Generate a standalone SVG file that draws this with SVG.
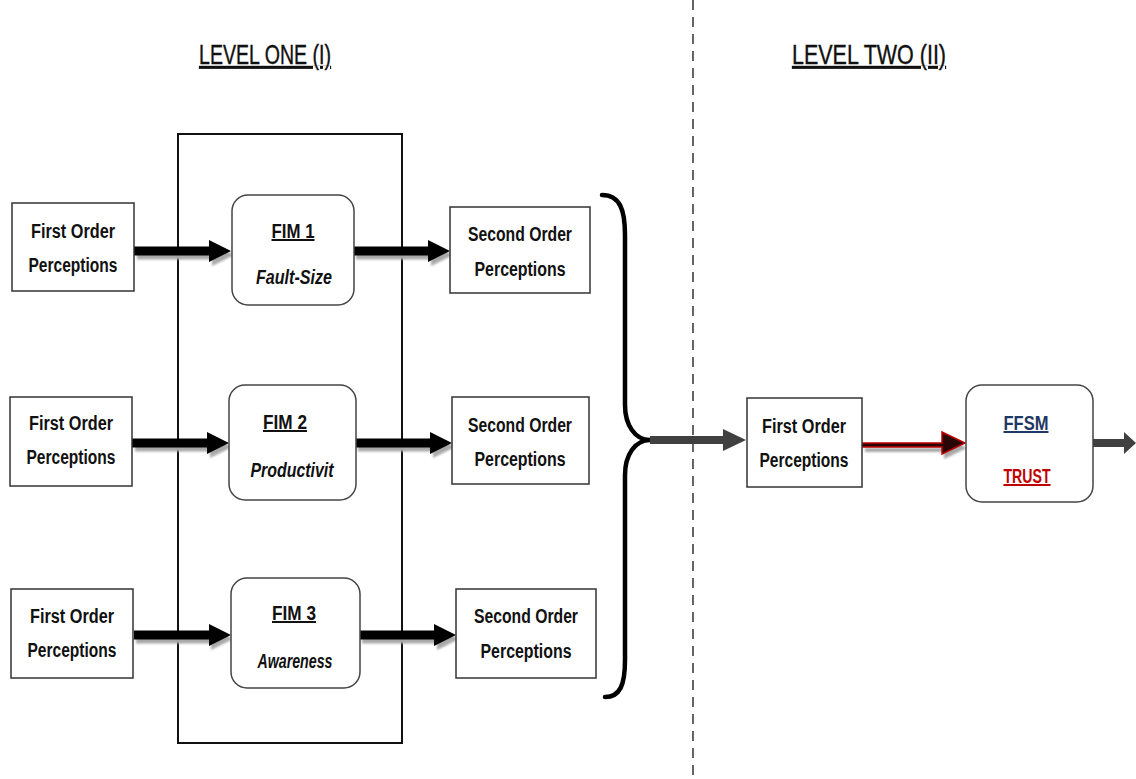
<svg xmlns="http://www.w3.org/2000/svg" xmlns:xlink="http://www.w3.org/1999/xlink" width="1136" height="779" viewBox="0 0 1136 779">
  <style>
    .box { fill: #fff; stroke: #333; stroke-width: 1.5; }
    .rbox { fill: #fff; stroke: #444; stroke-width: 1.5; }
    .frame { fill: none; stroke: #111; stroke-width: 2; }
    .t { font-family: "Liberation Sans", Arial, sans-serif; font-weight: bold; font-size: 20px; text-anchor: middle; fill: #111; }
    .it { font-style: italic; }
    .ul { text-decoration: underline; }
    .head { font-family: "Liberation Sans", Arial, sans-serif; font-size: 28px; text-anchor: middle; fill: #111; text-decoration: underline; stroke: #111; stroke-width: 0.4; }
    .blk { fill: #000; }
    .shd { fill: #a8a8a8; filter: url(#soft); }
    .dk { fill: #404040; }
  </style>
  <defs>
    <filter id="soft" x="-10%" y="-50%" width="120%" height="200%">
      <feGaussianBlur stdDeviation="1"/>
    </filter>
    <!-- thick block arrow, 97 px long, tip at x=97 -->
    <path id="arr" d="M0,-4.5 H75 V-11 L97,0 L75,11 V4.5 H0 Z"/>
  </defs>

  <rect width="1136" height="779" fill="#fff"/>

  <!-- headings and level divider -->
  <text class="head" x="265" y="64" textLength="132" lengthAdjust="spacingAndGlyphs">LEVEL ONE (I)</text>
  <text class="head" x="869" y="64" textLength="154" lengthAdjust="spacingAndGlyphs">LEVEL TWO (II)</text>
  <line x1="693" y1="0" x2="693" y2="779" stroke="#333" stroke-width="1.5" stroke-dasharray="10,7"/>

  <!-- level one frame -->
  <rect class="frame" x="178" y="134" width="224" height="609"/>

  <!-- connectors -->
  <g id="connectors">
    <!-- row 1 -->
    <use href="#arr" class="shd" transform="translate(137,255)"/>
    <use href="#arr" class="blk" transform="translate(134,251)"/>
    <use href="#arr" class="shd" transform="translate(356,255)"/>
    <use href="#arr" class="blk" transform="translate(353,251)"/>
    <!-- row 2 -->
    <use href="#arr" class="shd" transform="translate(135,447)"/>
    <use href="#arr" class="blk" transform="translate(132,443)"/>
    <use href="#arr" class="shd" transform="translate(358,447)"/>
    <use href="#arr" class="blk" transform="translate(355,443)"/>
    <!-- row 3 -->
    <use href="#arr" class="shd" transform="translate(136,639)"/>
    <use href="#arr" class="blk" transform="translate(134,635)"/>
    <use href="#arr" class="shd" transform="translate(362,639)"/>
    <use href="#arr" class="blk" transform="translate(359,635)"/>

    <!-- brace gathering the second order perceptions -->
    <path d="M602,195 C620,195 625,210 625,235 L625,405 C625,425 635,440 650,440 C635,440 625,455 625,475 L625,660 C625,685 620,697 605,697" fill="none" stroke="#000" stroke-width="4.5" stroke-linecap="round"/>
    <path class="dk" d="M650,436 H723 V429 L746,440 L723,451 V444 H650 Z"/>

    <!-- into the trust model -->
    <path class="shd" d="M865,448 H944 V437 L967,448 L944,459 V452 H865 Z"/>
    <path d="M862,443 H942 V432 L965,443 L942,454 V447 H862 Z" fill="#2a0505" stroke="#c00000" stroke-width="1.5"/>

    <!-- output -->
    <path class="dk" d="M1093,439 H1124 V432 L1136,443 L1124,454 V447 H1093 Z"/>
  </g>

  <!-- row 1 -->
  <g id="fo1">
    <rect class="box" x="12" y="203" width="122" height="88"/>
    <text class="t" x="73" y="238" textLength="84" lengthAdjust="spacingAndGlyphs">First Order</text>
    <text class="t" x="73" y="272" textLength="89" lengthAdjust="spacingAndGlyphs">Perceptions</text>
  </g>
  <g id="fim1">
    <rect class="rbox" x="232" y="195" width="122" height="110" rx="16"/>
    <text class="t ul" x="293" y="238" textLength="43" lengthAdjust="spacingAndGlyphs">FIM 1</text>
    <text class="t it" x="294" y="284" textLength="76" lengthAdjust="spacingAndGlyphs">Fault-Size</text>
  </g>
  <g id="so1">
    <rect class="box" x="450" y="207" width="140" height="86"/>
    <text class="t" x="520" y="241" textLength="104" lengthAdjust="spacingAndGlyphs">Second Order</text>
    <text class="t" x="520" y="276" textLength="91" lengthAdjust="spacingAndGlyphs">Perceptions</text>
  </g>

  <!-- row 2 -->
  <g id="fo2">
    <rect class="box" x="10" y="397" width="122" height="89"/>
    <text class="t" x="71" y="430" textLength="84" lengthAdjust="spacingAndGlyphs">First Order</text>
    <text class="t" x="71" y="464" textLength="89" lengthAdjust="spacingAndGlyphs">Perceptions</text>
  </g>
  <g id="fim2">
    <rect class="rbox" x="229" y="385" width="127" height="115" rx="16"/>
    <text class="t ul" x="285" y="429" textLength="44" lengthAdjust="spacingAndGlyphs">FIM 2</text>
    <text class="t it" x="292" y="477" textLength="83" lengthAdjust="spacingAndGlyphs">Productivit</text>
  </g>
  <g id="so2">
    <rect class="box" x="452" y="397" width="137" height="87"/>
    <text class="t" x="520" y="432" textLength="104" lengthAdjust="spacingAndGlyphs">Second Order</text>
    <text class="t" x="520" y="466" textLength="91" lengthAdjust="spacingAndGlyphs">Perceptions</text>
  </g>

  <!-- row 3 -->
  <g id="fo3">
    <rect class="box" x="11" y="589" width="122" height="89"/>
    <text class="t" x="72" y="623" textLength="84" lengthAdjust="spacingAndGlyphs">First Order</text>
    <text class="t" x="72" y="657" textLength="89" lengthAdjust="spacingAndGlyphs">Perceptions</text>
  </g>
  <g id="fim3">
    <rect class="rbox" x="231" y="578" width="129" height="110" rx="16"/>
    <text class="t ul" x="294" y="620" textLength="44" lengthAdjust="spacingAndGlyphs">FIM 3</text>
    <text class="t it" x="295" y="668" textLength="75" lengthAdjust="spacingAndGlyphs">Awareness</text>
  </g>
  <g id="so3">
    <rect class="box" x="456" y="589" width="140" height="89"/>
    <text class="t" x="526" y="623" textLength="104" lengthAdjust="spacingAndGlyphs">Second Order</text>
    <text class="t" x="526" y="658" textLength="91" lengthAdjust="spacingAndGlyphs">Perceptions</text>
  </g>

  <!-- level two -->
  <g id="fo-l2">
    <rect class="box" x="747" y="398" width="115" height="89"/>
    <text class="t" x="804" y="433" textLength="84" lengthAdjust="spacingAndGlyphs">First Order</text>
    <text class="t" x="804" y="467" textLength="89" lengthAdjust="spacingAndGlyphs">Perceptions</text>
  </g>
  <g id="ffsm">
    <rect class="rbox" x="966" y="385" width="127" height="117" rx="16"/>
    <text class="t ul" x="1026" y="430" textLength="45" lengthAdjust="spacingAndGlyphs" style="fill:#1f3864">FFSM</text>
    <text class="t ul" x="1027" y="483" textLength="47" lengthAdjust="spacingAndGlyphs" style="fill:#c00000">TRUST</text>
  </g>
</svg>
